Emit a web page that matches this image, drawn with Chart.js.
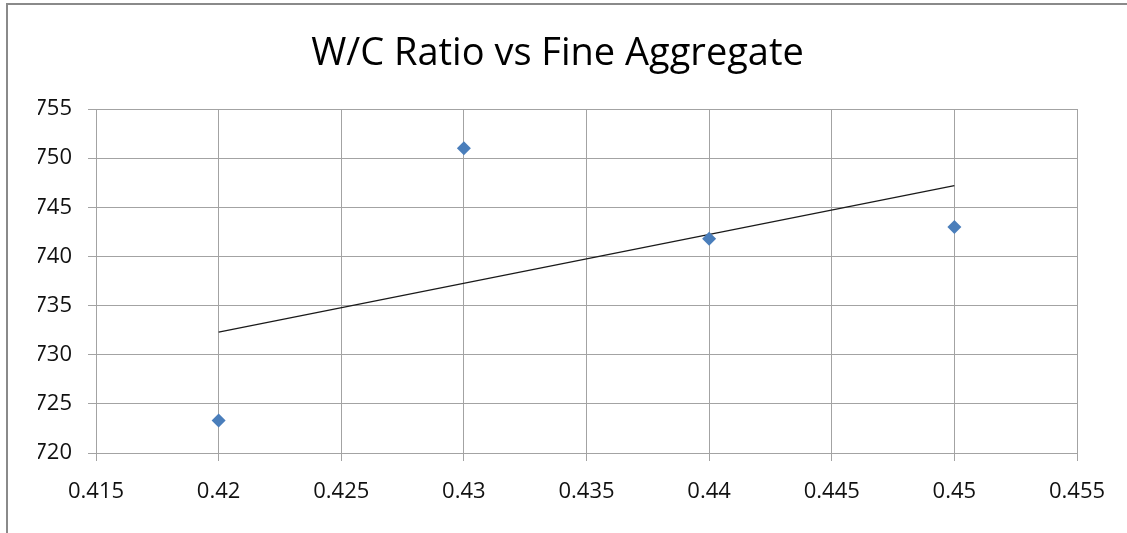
<!DOCTYPE html>
<html>
<head>
<meta charset="utf-8">
<script src="https://cdn.jsdelivr.net/npm/chart.js@4/dist/chart.umd.min.js"></script>
<style>
  body { margin: 0; background: #fff; }
  #wrap { position: relative; width: 1127px; height: 533px; overflow: hidden; }
  #frame { position: absolute; left: 6px; top: 3px; width: 1200px; height: 600px;
           border-left: 2px solid #8a8a8a; border-top: 2px solid #8a8a8a; }
  canvas { position: absolute; left: 0; top: 0; }
</style>
</head>
<body>
<div id="wrap">
  <div id="frame"></div>
  <canvas id="chart" width="1127" height="533"></canvas>
</div>
<script>
const wcRatio = [0.42, 0.43, 0.44, 0.45];
const fineAggregate = [723.3, 751.0, 741.8, 743.0];
// trendline ends
const trendX = [0.42, 0.45];
const trendY = [732.3, 747.2];

const xTicks = { min: 0.415, max: 0.455, step: 0.005 };
const yTicks = { min: 720, max: 755, step: 5 };

window.onload = () => {
  const gridColor = '#a3a3a3';
  const tickFont = { family: 'Open Sans', size: 22 };

  const ctx = document.getElementById('chart').getContext('2d');
  new Chart(ctx, {
    type: 'scatter',
    data: {
      datasets: [
        {
          label: 'Fine Aggregate',
          data: wcRatio.map((x, i) => ({ x: x, y: fineAggregate[i] })),
          pointStyle: 'rectRot',
          pointRadius: 7,
          pointHoverRadius: 7,
          backgroundColor: '#4a7ebb',
          borderColor: '#4a7ebb',
          borderWidth: 0
        },
        {
          label: 'Linear trend',
          type: 'line',
          data: trendX.map((x, i) => ({ x: x, y: trendY[i] })),
          borderColor: '#1a1a1a',
          borderWidth: 1.3,
          pointRadius: 0,
          fill: false
        }
      ]
    },
    options: {
      responsive: false,
      animation: false,
      layout: { padding: { left: 38, right: 50, top: 0, bottom: 0 } },
      plugins: {
        legend: { display: false },
        tooltip: { enabled: false },
        title: {
          display: true,
          text: 'W/C Ratio vs Fine Aggregate',
          color: '#000',
          font: { family: 'Open Sans', size: 38, weight: 'normal' },
          padding: { top: 31, bottom: 32.4 }
        }
      },
      scales: {
        x: {
          type: 'linear',
          min: xTicks.min,
          max: xTicks.max,
          afterFit: s => { s.height = 80; },
          ticks: {
            stepSize: xTicks.step,
            color: '#111',
            font: tickFont,
            padding: 18,
            maxRotation: 0,
            callback: v => String(+v.toFixed(3))
          },
          grid: { color: gridColor, tickLength: 8, drawTicks: true },
          border: { color: gridColor }
        },
        y: {
          min: yTicks.min,
          max: yTicks.max,
          afterFit: s => { s.width = 58; },
          ticks: {
            stepSize: yTicks.step,
            color: '#111',
            font: tickFont,
            padding: 16
          },
          grid: { color: gridColor, tickLength: 8, drawTicks: true },
          border: { color: gridColor }
        }
      }
    }
  });
};
</script>
</body>
</html>
